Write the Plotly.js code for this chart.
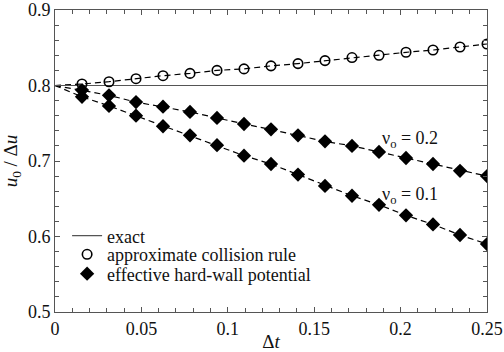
<!DOCTYPE html>
<html>
<head>
<meta charset="utf-8">
<script src="https://cdn.plot.ly/plotly-3.0.1.min.js"></script>
<style>html,body{margin:0;padding:0;background:#fff;}#chart{width:504px;height:352px;}</style>
</head>
<body>
<div id="chart"></div>
<script>
const dt = [0.015625, 0.03125, 0.046875, 0.0625, 0.078125, 0.09375, 0.109375, 0.125,
            0.140625, 0.15625, 0.171875, 0.1875, 0.203125, 0.21875, 0.234375, 0.25];
const approxCollision = [0.802, 0.805, 0.809, 0.813, 0.816, 0.820, 0.822, 0.826,
                         0.829, 0.833, 0.837, 0.840, 0.844, 0.847, 0.851, 0.855];
const hardWall02 = [0.794, 0.787, 0.778, 0.772, 0.765, 0.757, 0.749, 0.742,
                    0.734, 0.726, 0.720, 0.712, 0.704, 0.696, 0.687, 0.680];
const hardWall01 = [0.785, 0.773, 0.760, 0.746, 0.734, 0.721, 0.707, 0.696,
                    0.682, 0.667, 0.654, 0.642, 0.628, 0.616, 0.602, 0.590];
const startX = 0;
const exactValue = 0.8;
const exactX = [0, 0.25];
const legendNames = ['exact', 'approximate collision rule', 'effective hard-wall potential'];
const labels = ['ν<sub>o</sub> = 0.2', 'ν<sub>o</sub> = 0.1'];

const font = "'Liberation Serif', 'Times New Roman', Times, serif";
const dashLine = {color: '#000', width: 1.2, dash: '6px,4px'};
const withStart = arr => [exactValue].concat(arr);
const xWithStart = [startX].concat(dt);

const traces = [
  {x: xWithStart, y: withStart(approxCollision), mode: 'lines', line: dashLine, showlegend: false, hoverinfo: 'skip'},
  {x: xWithStart, y: withStart(hardWall02), mode: 'lines', line: dashLine, showlegend: false, hoverinfo: 'skip'},
  {x: xWithStart, y: withStart(hardWall01), mode: 'lines', line: dashLine, showlegend: false, hoverinfo: 'skip'},
  {x: exactX, y: exactX.map(() => exactValue), mode: 'lines', name: legendNames[0], legend: 'legend',
   line: {color: '#555', width: 1.2}},
  {x: dt, y: approxCollision, mode: 'markers', name: legendNames[1], legend: 'legend2',
   marker: {symbol: 'circle-open', size: 9.5, color: '#000', line: {width: 1.6, color: '#000'}}},
  {x: dt, y: hardWall02, mode: 'markers', name: legendNames[2], legend: 'legend3',
   marker: {symbol: 'diamond', size: 11, color: '#000'}},
  {x: dt, y: hardWall01, mode: 'markers', showlegend: false,
   marker: {symbol: 'diamond', size: 11, color: '#000'}}
];

const axisCommon = {
  showline: true, linecolor: '#555', linewidth: 1, mirror: 'ticks',
  ticks: 'inside', ticklen: 5, tickcolor: '#555', tickwidth: 1,
  showgrid: false, zeroline: false,
  tickfont: {family: font, size: 18, color: '#111'}
};

const legendCommon = {xanchor: 'left', yanchor: 'middle', bgcolor: 'rgba(0,0,0,0)',
  font: {family: font, size: 18, color: '#111'}};

const layout = {
  width: 504, height: 352,
  margin: {l: 55, r: 17, t: 10, b: 40},
  paper_bgcolor: '#fff', plot_bgcolor: '#fff',
  font: {family: font, color: '#111'},
  showlegend: true,
  legend: Object.assign({x: 0.028, y: 0.252}, legendCommon),
  legend2: Object.assign({x: 0.028, y: 0.190}, legendCommon),
  legend3: Object.assign({x: 0.028, y: 0.126}, legendCommon),
  xaxis: Object.assign({}, axisCommon, {
    range: [0, 0.25], tickvals: [0, 0.05, 0.1, 0.15, 0.2, 0.25],
    ticktext: ['0', '0.05', '0.1', '0.15', '0.2', '0.25'],
    minor: {dtick: 0.01, ticks: 'inside', ticklen: 4, tickcolor: '#555'},
    title: {text: 'Δ<i>t</i>', font: {family: font, size: 19, color: '#111'}, standoff: 4}
  }),
  yaxis: Object.assign({}, axisCommon, {
    range: [0.5, 0.9], tickvals: [0.5, 0.6, 0.7, 0.8, 0.9],
    ticktext: ['0.5', '0.6', '0.7', '0.8', '0.9'],
    ticklabelstandoff: 0,
    minor: {dtick: 0.02, ticks: 'inside', ticklen: 4, tickcolor: '#555'},
    title: {text: '<i>u</i><sub>0</sub> / Δ<i>u</i>', font: {family: font, size: 19, color: '#111'}, standoff: 6}
  }),
  annotations: [
    {x: 0.188, y: 0.729, xref: 'x', yref: 'y', text: labels[0], showarrow: false,
     xanchor: 'left', yanchor: 'middle', font: {family: font, size: 18, color: '#111'}},
    {x: 0.188, y: 0.654, xref: 'x', yref: 'y', text: labels[1], showarrow: false,
     xanchor: 'left', yanchor: 'middle', font: {family: font, size: 18, color: '#111'}}
  ]
};

Plotly.newPlot('chart', traces, layout, {staticPlot: true, displayModeBar: false});
</script>
</body>
</html>
